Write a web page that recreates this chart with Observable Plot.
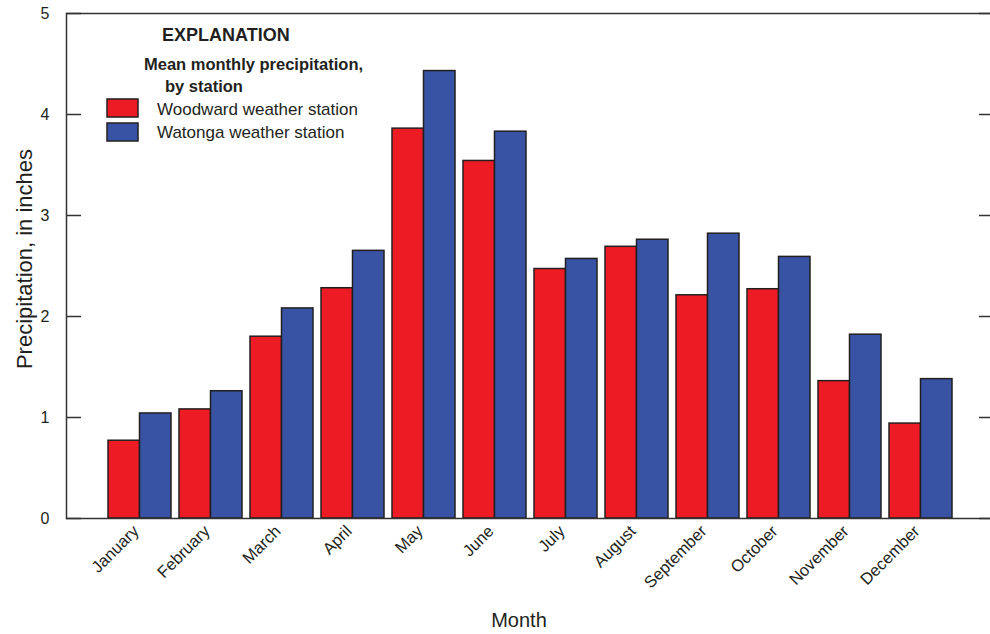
<!DOCTYPE html>
<html><head><meta charset="utf-8">
<script src="https://cdn.jsdelivr.net/npm/d3@7"></script>
<script src="https://cdn.jsdelivr.net/npm/@observablehq/plot@0.6"></script>
<style>
html,body{margin:0;padding:0;background:#fff;overflow:hidden;}
#wrap{position:relative;width:990px;height:634px;}
</style></head><body><div id="wrap"></div>
<script>
const months = ["January","February","March","April","May","June","July","August","September","October","November","December"];
const woodward = [0.77,1.08,1.80,2.28,3.86,3.54,2.47,2.69,2.21,2.27,1.36,0.94];
const watonga  = [1.04,1.26,2.08,2.65,4.43,3.83,2.57,2.76,2.82,2.59,1.82,1.38];
const stations = ["Woodward weather station","Watonga weather station"];
const colors = ["#ed1c24","#3953a4"];
const yTicks = [0,1,2,3,4,5];

const data = months.map((m,i)=>({month:m, woodward:woodward[i], watonga:watonga[i]}));

const W=990,H=634,mL=66,mR=-3,mT=13,mB=116;
const padIn=0.116,padOut=0.561;
const step=(W-mR-mL)/(months.length-padIn+2*padOut);
const bw=step*(1-padIn);
const ink="#231f20", font="Liberation Sans, Arial, sans-serif";

const svg = Plot.plot({
  width:W,height:H,marginLeft:mL,marginRight:mR,marginTop:mT,marginBottom:mB,
  style:{fontFamily:font,fontSize:"16px",color:ink,background:"#fff"},
  x:{domain:months,paddingInner:padIn,paddingOuter:padOut,label:null},
  y:{domain:[0,5],label:null},
  marks:[
    Plot.barY(data,{x:"month",y:"woodward",fill:colors[0],stroke:ink,strokeWidth:1.5,insetLeft:0,insetRight:bw/2}),
    Plot.barY(data,{x:"month",y:"watonga",fill:colors[1],stroke:ink,strokeWidth:1.5,insetLeft:bw/2,insetRight:0}),
    Plot.frame({stroke:"#333",strokeWidth:1.5}),
    Plot.axisY(yTicks,{anchor:"left",tickSize:15,dx:15,tickFormat:()=>"",label:null,stroke:"#333",strokeWidth:1.5}),
    Plot.axisY(yTicks,{anchor:"right",tickSize:15,dx:-15,tickFormat:()=>"",label:null,stroke:"#333",strokeWidth:1.5}),
    Plot.axisY(yTicks,{anchor:"left",tickSize:0,tickPadding:17,tickFormat:d3.format("d"),label:null,fontSize:16,fill:ink}),
    Plot.axisX({tickRotate:-45,tickSize:0,tickPadding:10,dx:-4,label:null,fontSize:16.5,fill:ink})
  ]
});
document.getElementById("wrap").appendChild(svg);

const s = d3.select(svg);
s.append("text").attr("transform","translate(32,259) rotate(-90)").attr("text-anchor","middle")
  .attr("font-family",font).attr("font-size",22).attr("fill",ink).text("Precipitation, in inches");
s.append("text").attr("x",519).attr("y",627).attr("text-anchor","middle")
  .attr("font-family",font).attr("font-size",20).attr("fill",ink).text("Month");

const lg = s.append("g").attr("font-family",font).attr("fill",ink).attr("text-anchor","start");
lg.append("text").attr("x",162).attr("y",41).attr("font-weight","bold").attr("font-size",18).text("EXPLANATION");
lg.append("text").attr("x",144).attr("y",70).attr("font-weight","bold").attr("font-size",16.5).text("Mean monthly precipitation,");
lg.append("text").attr("x",165).attr("y",92).attr("font-weight","bold").attr("font-size",16.5).text("by station");
stations.forEach((st,i)=>{
  lg.append("rect").attr("x",107).attr("y",99+i*24).attr("width",31).attr("height",18)
    .attr("fill",colors[i]).attr("stroke",ink).attr("stroke-width",1.5);
  lg.append("text").attr("x",157).attr("y",115+i*23).attr("font-size",17).text(st);
});
</script></body></html>
